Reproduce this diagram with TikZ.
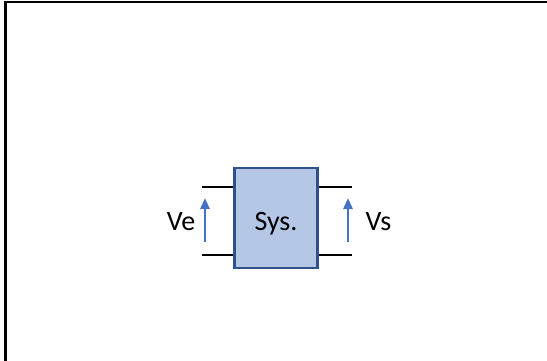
\documentclass[tikz,border=0pt]{standalone}
\usepackage{fontspec}
\setmainfont{Carlito}
\usetikzlibrary{arrows.meta}
\definecolor{sysfill}{HTML}{B4C7E7}
\definecolor{sysedge}{HTML}{2F528F}
\definecolor{volt}{HTML}{4472C4}
\begin{document}
\begin{tikzpicture}[x=1pt,y=-1pt,
  frame/.style={line width=2.6pt,draw=black},
  sysbox/.style={draw=sysedge,fill=sysfill,line width=2.6pt,minimum width=83pt,minimum height=100pt,inner sep=0pt},
  wire/.style={line width=1.4pt,draw=black},
  voltarrow/.style={line width=2.6pt,draw=volt,-{Triangle[length=11pt,width=9pt]}},
  lbl/.style={font=\fontsize{28}{32}\selectfont,inner sep=0pt,anchor=base}]
\useasboundingbox (0,0) rectangle (547,361);
% partial outer frame (top and left edges)
\draw[frame] (5.5,361) -- (5.5,2) -- (547,2);
% the system block
\node[sysbox] (sys) at (276,218) {};
\node[lbl] (syslbl) at (276,230) {Sys.};
% terminal wires
\coordinate (inTop) at (202,187);
\coordinate (inBot) at (202,255);
\coordinate (outTop) at (352,187);
\coordinate (outBot) at (352,255);
\draw[wire] (inTop) -- (sys.west |- inTop);
\draw[wire] (inBot) -- (sys.west |- inBot);
\draw[wire] (sys.east |- outTop) -- (outTop);
\draw[wire] (sys.east |- outBot) -- (outBot);
% voltage arrows
\coordinate (veA) at (205,242);
\coordinate (veB) at (205,198);
\coordinate (vsA) at (348,242);
\coordinate (vsB) at (348,198);
\draw[voltarrow] (veA) -- (veB);
\draw[voltarrow] (vsA) -- (vsB);
% labels
\node[lbl] (ve) at (181,230) {Ve};
\node[lbl] (vs) at (378.5,230) {Vs};
\end{tikzpicture}
\end{document}
